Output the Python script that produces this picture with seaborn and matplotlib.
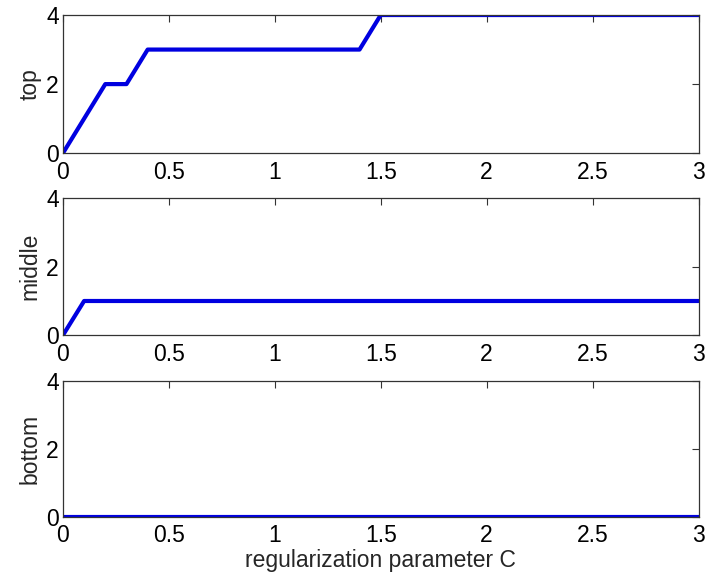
import matplotlib
matplotlib.use("Agg")
import matplotlib.pyplot as plt
import seaborn as sns
import pandas as pd

top_x = [0, 0.2, 0.3, 0.4, 1.4, 1.5, 3]
top_y = [0, 2, 2, 3, 3, 4, 4]
mid_x = [0, 0.1, 3]
mid_y = [0, 1, 1]
bot_x = [0, 3]
bot_y = [0, 0]
panel_names = ["top", "middle", "bottom"]
x_ticks = [0, 0.5, 1, 1.5, 2, 2.5, 3]
x_tick_labels = ["0", "0.5", "1", "1.5", "2", "2.5", "3"]
y_ticks = [0, 2, 4]

sns.set_style("white")
plt.rcParams['font.family'] = ['Liberation Sans', 'DejaVu Sans']

FS = 16.5
fig = plt.figure(figsize=(7.07, 5.78), dpi=100)
positions = [
    [0.089, 0.735, 0.899, 0.239],
    [0.089, 0.420, 0.899, 0.237],
    [0.089, 0.106, 0.899, 0.235],
]
data = [(top_x, top_y), (mid_x, mid_y), (bot_x, bot_y)]
for pos, (xs, ys), name in zip(positions, data, panel_names):
    ax = fig.add_axes(pos)
    df = pd.DataFrame({"C": xs, "v": ys})
    sns.lineplot(data=df, x="C", y="v", ax=ax, color="#0000e0", linewidth=3.0)
    ax.set_xlim(0, 3)
    ax.set_ylim(0, 4)
    ax.set_xticks(x_ticks)
    ax.set_xticklabels(x_tick_labels)
    ax.set_yticks(y_ticks)
    ax.tick_params(direction="in", top=True, right=True, length=5, width=0.8,
                   labelsize=FS, colors="#333333", labelcolor="black")
    ax.tick_params(axis="x", pad=5.5)
    ax.tick_params(axis="y", pad=3)
    for s in ax.spines.values():
        s.set_color("#333333")
        s.set_linewidth(0.9)
    ax.set_ylabel(name, fontsize=FS, labelpad=3)
    ax.set_xlabel("")
fig.axes[-1].set_xlabel("regularization parameter C", fontsize=FS, labelpad=1)
fig.savefig("out.png", dpi=100)
